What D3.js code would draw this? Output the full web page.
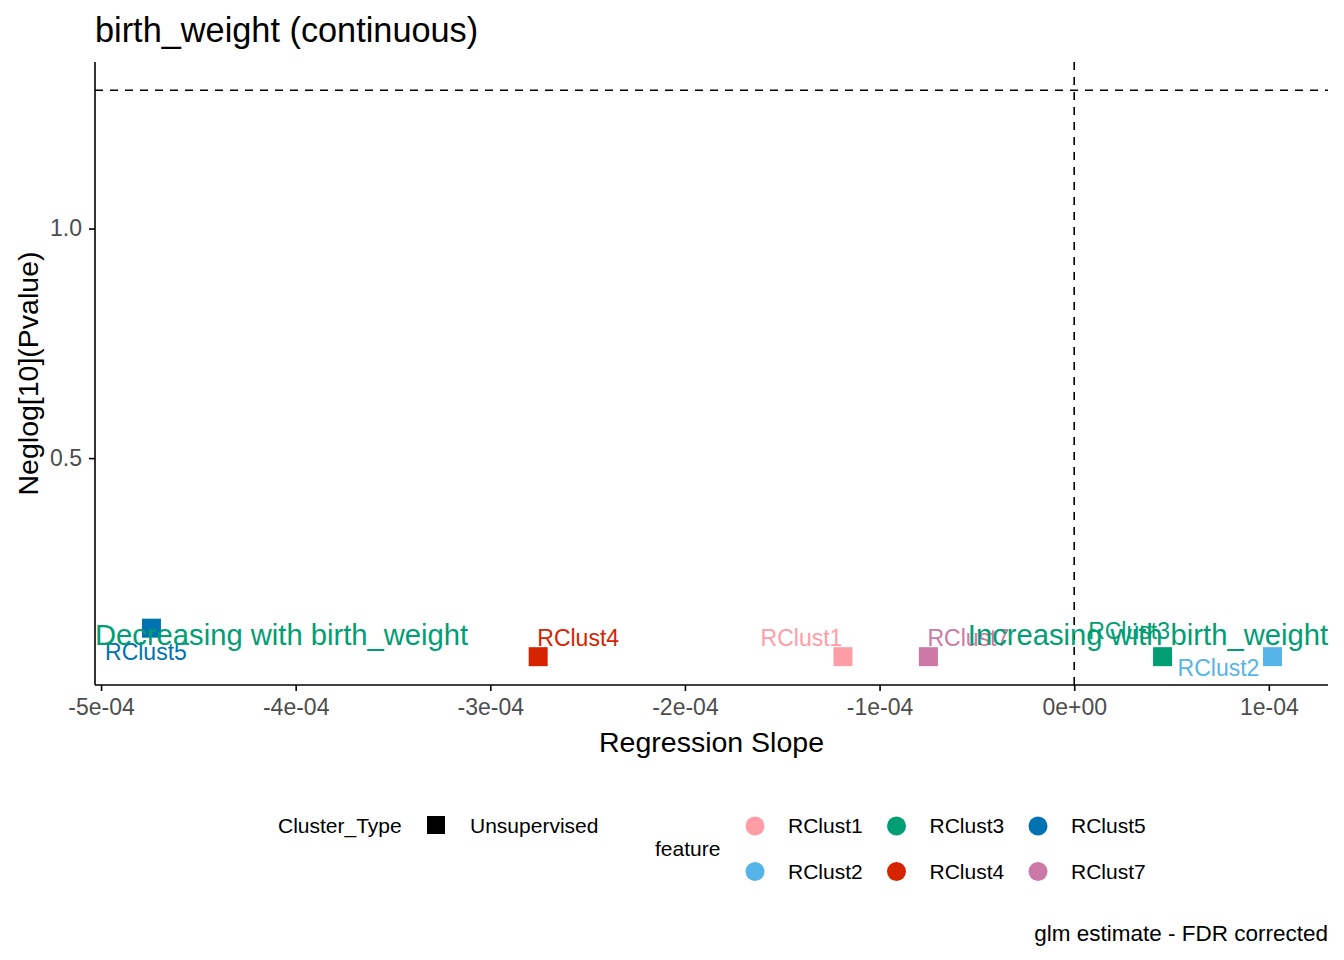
<!DOCTYPE html>
<html>
<head>
<meta charset="utf-8">
<script src="https://cdn.jsdelivr.net/npm/d3@7"></script>
<style>
  body { margin: 0; background: #fff; }
  svg { font-family: "Liberation Sans", Arial, sans-serif; }
</style>
</head>
<body>
<svg id="chart" width="1344" height="960"></svg>
<script>
// data
const features = ["RClust1", "RClust2", "RClust3", "RClust4", "RClust5", "RClust7"];
const slopes = [-1.188e-4, 1.019e-4, 0.454e-4, -2.754e-4, -4.741e-4, -0.749e-4];
const neglogP = [0.0675, 0.0675, 0.0675, 0.0675, 0.1296, 0.0675];
const featureColors = ["#FF9DA7", "#56B4E9", "#009E73", "#D62300", "#0072B2", "#CC79A7"];
// ggrepel-like label nudges (px)
const labelDx = [-41.5, -54, -33.5, 40, -5.5, 40];
const labelDy = [-19, 11.5, -25.5, -19, 24, -19];

const xTicks = [-5e-4, -4e-4, -3e-4, -2e-4, -1e-4, 0, 1e-4];
const xTickLabels = ["-5e-04", "-4e-04", "-3e-04", "-2e-04", "-1e-04", "0e+00", "1e-04"];
const yTicks = [0.5, 1.0];
const yTickLabels = ["0.5", "1.0"];

const pThreshold = -Math.log10(0.05);
const annotations = [
  { text: "Decreasing with birth_weight", side: "left", y: 0.115 },
  { text: "Increasing with birth_weight", side: "right", y: 0.115 }
];
const legendFeatureOrder = ["RClust1", "RClust2", "RClust3", "RClust4", "RClust5", "RClust7"];

const points = features.map((f, i) => ({
  feature: f, x: slopes[i], y: neglogP[i], color: featureColors[i], dx: labelDx[i], dy: labelDy[i]
}));

const svg = d3.select("#chart");

// panel
const margin = { top: 62, right: 16, bottom: 275, left: 95 };
const width = 1344 - margin.left - margin.right;
const height = 960 - margin.top - margin.bottom;

const xScale = d3.scaleLinear()
  .domain([-5.031e-4, 1.304e-4])
  .range([margin.left, margin.left + width]);

const yScale = d3.scaleLinear()
  .domain([0.0058, 1.3627])
  .range([margin.top + height, margin.top]);

const colorScale = d3.scaleOrdinal().domain(features).range(featureColors);

// reference lines
svg.append("line")
  .attr("x1", margin.left).attr("x2", margin.left + width)
  .attr("y1", yScale(pThreshold)).attr("y2", yScale(pThreshold))
  .attr("stroke", "#000").attr("stroke-width", 1.6).attr("stroke-dasharray", "8,7");

svg.append("line")
  .attr("x1", xScale(0)).attr("x2", xScale(0))
  .attr("y1", margin.top).attr("y2", margin.top + height)
  .attr("stroke", "#000").attr("stroke-width", 1.6).attr("stroke-dasharray", "8,7");

// points
const sq = 19;
svg.append("g")
  .selectAll("rect")
  .data(points)
  .enter()
  .append("rect")
  .attr("x", d => xScale(d.x) - sq / 2)
  .attr("y", d => yScale(d.y) - sq / 2)
  .attr("width", sq)
  .attr("height", sq)
  .attr("fill", d => colorScale(d.feature));

// point labels
svg.append("g")
  .selectAll("text")
  .data(points)
  .enter()
  .append("text")
  .attr("x", d => xScale(d.x) + d.dx)
  .attr("y", d => yScale(d.y) + d.dy + 8)
  .attr("text-anchor", "middle")
  .attr("font-size", 23)
  .attr("fill", d => colorScale(d.feature))
  .text(d => d.feature);

// direction annotations
svg.append("g")
  .selectAll("text")
  .data(annotations)
  .enter()
  .append("text")
  .attr("x", d => d.side === "left" ? xScale.range()[0] : xScale.range()[1])
  .attr("y", d => yScale(d.y) + 10.5)
  .attr("text-anchor", d => d.side === "left" ? "start" : "end")
  .attr("font-size", 29.2)
  .attr("fill", "#009E73")
  .text(d => d.text);

// axes
const xAxis = d3.axisBottom(xScale)
  .tickValues(xTicks)
  .tickFormat((d, i) => xTickLabels[i])
  .tickSizeOuter(0)
  .tickSize(6)
  .tickPadding(8);

const yAxis = d3.axisLeft(yScale)
  .tickValues(yTicks)
  .tickFormat((d, i) => yTickLabels[i])
  .tickSizeOuter(0)
  .tickSize(6)
  .tickPadding(7);

const gx = svg.append("g")
  .attr("transform", `translate(0, ${margin.top + height})`)
  .call(xAxis);

const gy = svg.append("g")
  .attr("transform", `translate(${margin.left}, 0)`)
  .call(yAxis);

[gx, gy].forEach(g => {
  g.select(".domain").attr("stroke", "#000").attr("stroke-width", 1.6);
  g.selectAll(".tick line").attr("stroke", "#000").attr("stroke-width", 1.6);
  g.selectAll(".tick text")
    .attr("fill", "#4D4D4D")
    .attr("font-size", 23)
    .attr("font-family", "Liberation Sans, Arial, sans-serif");
});
// make domains span the whole panel
gx.select(".domain").attr("d", `M${margin.left},0H${margin.left + width}`);
gy.select(".domain").attr("d", `M0,${margin.top}V${margin.top + height}`);

// titles
svg.append("text")
  .attr("x", 95).attr("y", 42)
  .attr("font-size", 34.3)
  .attr("fill", "#000")
  .text("birth_weight (continuous)");

svg.append("text")
  .attr("x", margin.left + width / 2).attr("y", 752)
  .attr("text-anchor", "middle")
  .attr("font-size", 28.5)
  .attr("fill", "#000")
  .text("Regression Slope");

svg.append("text")
  .attr("transform", `translate(38, ${margin.top + height / 2}) rotate(-90)`)
  .attr("text-anchor", "middle")
  .attr("font-size", 28.5)
  .attr("fill", "#000")
  .text("Neglog[10](Pvalue)");

// legends
const legend = svg.append("g").attr("font-size", 21).attr("fill", "#000");

legend.append("text").attr("x", 278).attr("y", 833).text("Cluster_Type");
legend.append("rect").attr("x", 427).attr("y", 816).attr("width", 18).attr("height", 18).attr("fill", "#000");
legend.append("text").attr("x", 470).attr("y", 833).text("Unsupervised");

legend.append("text").attr("x", 655).attr("y", 856).text("feature");

const items = legend.selectAll("g.item")
  .data(legendFeatureOrder)
  .enter()
  .append("g")
  .attr("class", "item")
  .attr("transform", (d, i) => `translate(${755 + Math.floor(i / 2) * 141.5}, ${826 + (i % 2) * 45.5})`);

items.append("circle")
  .attr("r", 9.5)
  .attr("fill", d => colorScale(d));

items.append("text")
  .attr("x", 33)
  .attr("y", 7)
  .text(d => d);

// caption
svg.append("text")
  .attr("x", 1328).attr("y", 941)
  .attr("text-anchor", "end")
  .attr("font-size", 22.5)
  .attr("fill", "#000")
  .text("glm estimate - FDR corrected");
</script>
</body>
</html>
